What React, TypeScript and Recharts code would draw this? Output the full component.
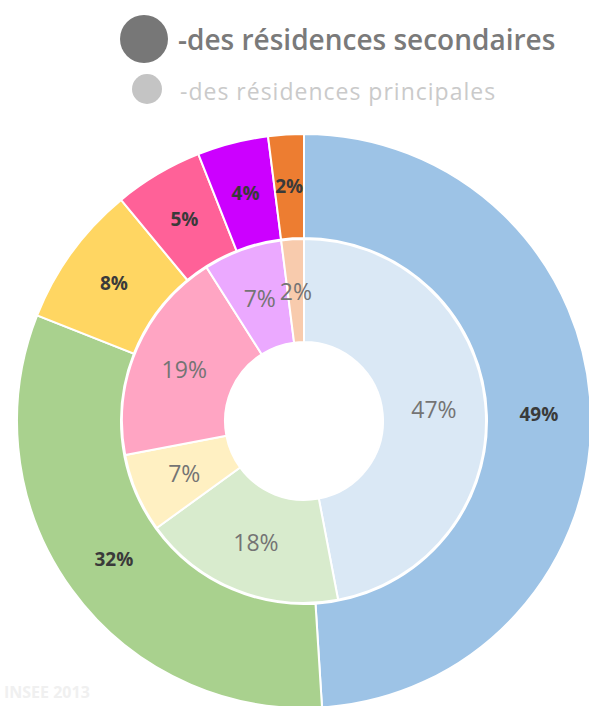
import React from 'react';
import { PieChart, Pie, Cell } from 'recharts';

const outerNames = ['a', 'b', 'c', 'd', 'e', 'f'];
const outerValues = [49, 32, 8, 5, 4, 2];
const innerValues = [47, 18, 7, 19, 7, 2];
const outerColors = ['#9DC3E6', '#A9D18E', '#FFD662', '#FF6198', '#CC00FF', '#ED7D31'];
const innerColors = ['#DAE8F5', '#D8EBCD', '#FFF0C2', '#FFA5C3', '#EBA9FF', '#F8CBAD'];
const legendLabels = ['-des résidences secondaires', '-des résidences principales'];
const sourceText = 'INSEE 2013';

const outerData = outerNames.map((n, i) => ({ name: n, value: outerValues[i] }));
const innerData = outerNames.map((n, i) => ({ name: n, value: innerValues[i] }));

const RADIAN = Math.PI / 180;
const FONT = '"Open Sans", "Noto Sans", sans-serif';

const makeLabel = (bold: boolean) => (props: any) => {
  const { cx, cy, midAngle, innerRadius, outerRadius, value } = props;
  const r = (innerRadius + outerRadius) / 2;
  const x = cx + r * Math.cos(-midAngle * RADIAN);
  const y = cy + r * Math.sin(-midAngle * RADIAN);
  return (
    <text
      x={x}
      y={y}
      textAnchor="middle"
      dominantBaseline="central"
      fontFamily={FONT}
      fontSize={bold ? 19 : 23}
      fontWeight={bold ? 700 : 400}
      fill={bold ? '#3a3a3a' : '#747474'}
    >
      {value}%
    </text>
  );
};

export default function App() {
  return (
    <div style={{ position: 'absolute', left: 0, top: 0, width: 589, height: 706, background: '#fff', overflow: 'hidden' }}>
      <PieChart width={589} height={706} margin={{ top: 0, right: 0, bottom: 0, left: 0 }}>
        <Pie
          data={outerData}
          dataKey="value"
          cx={304}
          cy={421}
          innerRadius={183}
          outerRadius={287}
          startAngle={90}
          endAngle={-270}
          stroke="#fff"
          strokeWidth={2}
          label={makeLabel(true)}
          labelLine={false}
          isAnimationActive={false}
        >
          {outerData.map((d, i) => (
            <Cell key={d.name} fill={outerColors[i]} />
          ))}
        </Pie>
        <Pie
          data={innerData}
          dataKey="value"
          cx={304}
          cy={421}
          innerRadius={79}
          outerRadius={182}
          startAngle={90}
          endAngle={-270}
          stroke="#fff"
          strokeWidth={2}
          label={makeLabel(false)}
          labelLine={false}
          isAnimationActive={false}
        >
          {innerData.map((d, i) => (
            <Cell key={d.name} fill={innerColors[i]} />
          ))}
        </Pie>
      </PieChart>
      <svg width={589} height={706} style={{ position: 'absolute', left: 0, top: 0, pointerEvents: 'none' }}>
        <circle cx={144} cy={39} r={24} fill="#777" />
        <text x={178} y={50} fontFamily={FONT} fontSize={28} fontWeight={600} fill="#7a7a7a">
          {legendLabels[0]}
        </text>
        <circle cx={147} cy={89} r={15} fill="#c4c4c4" />
        <text x={180} y={100} fontFamily={FONT} fontSize={23} fontWeight={400} letterSpacing={1} fill="#cacaca">
          {legendLabels[1]}
        </text>
        <text x={4} y={698} fontFamily={FONT} fontSize={16} fontWeight={700} fill="#f0f0f0">
          {sourceText}
        </text>
      </svg>
    </div>
  );
}
